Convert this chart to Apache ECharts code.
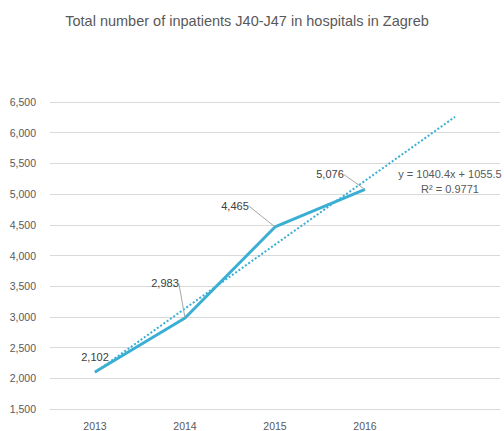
<!DOCTYPE html>
<html>
<head>
<meta charset="utf-8">
<script src="https://cdn.jsdelivr.net/npm/echarts@6/dist/echarts.min.js"></script>
<style>
  html, body { margin: 0; padding: 0; background: #fff; }
  #chart { width: 504px; height: 431px; }
</style>
</head>
<body>
<div id="chart"></div>
<script>
// Daten
var years = ['2013', '2014', '2015', '2016', ''];
var patients = [2102, 2983, 4465, 5076];
// linearer Trend (Excel): 2013 bis eine Periode nach 2016
var trend = [2096, 3136, 4177, 5217, 6258];
var trendText = ['y = 1040.4x + 1055.5', 'R² = 0.9771'];
var yTicks = { min: 1500, max: 6500, step: 500 };

// Verschiebung der Datenbeschriftungen (wie im Original)
var labelShift = [[0, -4], [-20, -24], [-40, -10], [-35, -4]];

var chart = echarts.init(document.getElementById('chart'), null, { renderer: 'svg' });

// erste Beschriftung ohne Führungslinie
var patientData = patients.map(function (v, i) {
  return i === 0 ? { value: v, labelLine: { show: false } } : v;
});

chart.setOption({
  animation: false,
  textStyle: { fontFamily: 'Liberation Sans' },
  title: {
    text: 'Total number of inpatients J40-J47 in hospitals in Zagreb',
    left: 242,
    textAlign: 'center',
    top: 8,
    textStyle: { fontSize: 14.5, fontWeight: 'normal', color: '#595959' }
  },
  grid: { left: 50, right: 4, top: 102, bottom: 22 },
  xAxis: {
    type: 'category',
    data: years,
    boundaryGap: true,
    axisLine: { show: true, lineStyle: { color: '#d9d9d9' } },
    axisTick: { show: false },
    axisLabel: { color: '#595959', fontSize: 10.5, margin: 11 }
  },
  yAxis: {
    type: 'value',
    min: yTicks.min,
    max: yTicks.max,
    interval: yTicks.step,
    axisLine: { show: false },
    axisTick: { show: false },
    splitLine: { lineStyle: { color: '#d9d9d9' } },
    axisLabel: {
      color: '#595959', fontSize: 10.5, margin: 14,
      formatter: function (v) { return v.toLocaleString('en-US'); }
    }
  },
  series: [
    {
      name: 'Trend',
      type: 'line',
      data: trend,
      symbol: 'none',
      silent: true,
      lineStyle: { color: '#3AAED6', width: 2, type: [2, 2] },
      z: 3
    },
    {
      name: 'Inpatients',
      type: 'line',
      data: patientData,
      symbol: 'circle',
      symbolSize: 1,
      showSymbol: true,
      itemStyle: { color: 'rgba(0,0,0,0)' },
      lineStyle: { color: '#3AAED3', width: 3 },
      label: {
        show: true,
        position: 'top',
        distance: 5,
        color: '#404040',
        fontSize: 11,
        formatter: function (p) { return p.value.toLocaleString('en-US'); }
      },
      labelLine: { show: true, lineStyle: { color: '#a6a6a6', width: 1 } },
      labelLayout: function (p) {
        var s = labelShift[p.dataIndex];
        return { dx: s[0], dy: s[1] };
      },
      z: 4
    }
  ],
  graphic: [{
    type: 'text',
    x: 450,
    y: 166,
    style: {
      text: trendText.join('\n'),
      align: 'center',
      verticalAlign: 'top',
      fill: '#595959',
      font: '11px Liberation Sans',
      lineHeight: 15
    }
  }]
});
</script>
</body>
</html>
